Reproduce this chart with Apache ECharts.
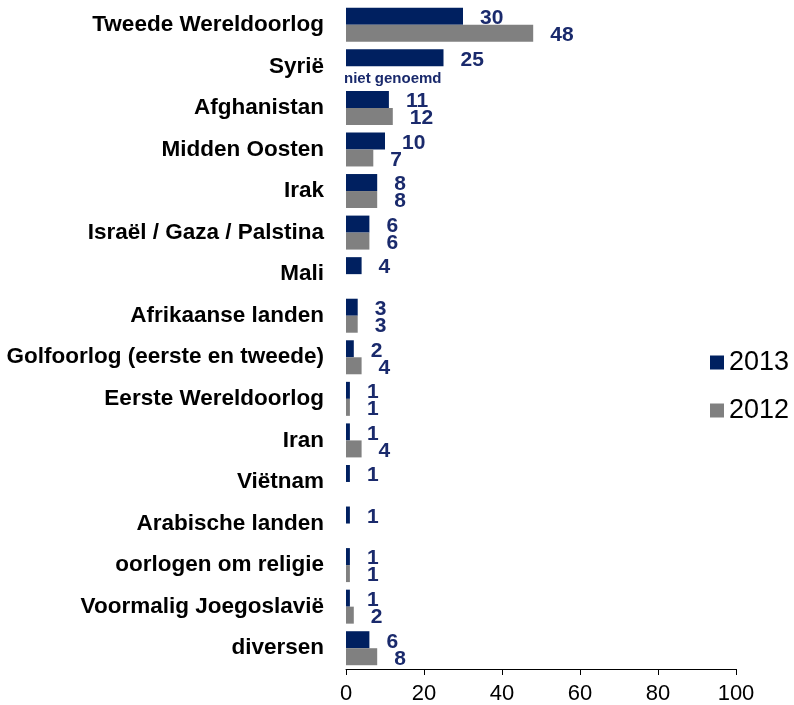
<!DOCTYPE html>
<html>
<head>
<meta charset="utf-8">
<script src="https://cdn.jsdelivr.net/npm/echarts@6/dist/echarts.min.js"></script>
<style>
html,body{margin:0;padding:0;background:#fff;}
#chart{width:794px;height:705px;}
</style>
</head>
<body>
<div id="chart"></div>
<script>
var categories = ['Tweede Wereldoorlog','Syrië','Afghanistan','Midden Oosten','Irak','Israël / Gaza / Palstina','Mali',
  'Afrikaanse landen','Golfoorlog (eerste en tweede)','Eerste Wereldoorlog','Iran','Viëtnam','Arabische landen',
  'oorlogen om religie','Voormalig Joegoslavië','diversen'];
var values2013 = [30,25,11,10,8,6,4,3,2,1,1,1,1,1,1,6];
// null = niet genoemd in 2012
var values2012 = [48,null,12,7,8,6,null,3,4,1,4,null,null,1,2,8];
var xTicks = [0,20,40,60,80,100];

var chart = echarts.init(document.getElementById('chart'));

var labelStyle = {
  show: true,
  position: 'right',
  distance: 17,
  offset: [0, 2],
  color: '#1a2a6c',
  fontFamily: 'Liberation Sans',
  fontWeight: 'bold',
  fontSize: 21
};

// Syrië heeft in 2012 geen waarde, alleen de tekst "niet genoemd"
var data2012 = values2012.map(function(v, i){
  if (v === null && i === 1) {
    return {value: 0, label: {show: true, formatter: 'niet genoemd', fontSize: 15, distance: 0, offset: [-2, 4]}};
  }
  if (v === null) return {value: null, label: {show: false}};
  return v;
});

var options = {
  animation: false,
  legend: {
    orient: 'vertical',
    left: 705,
    top: 344,
    itemWidth: 14,
    itemHeight: 14,
    itemGap: 21,
    icon: 'rect',
    textStyle: {fontFamily: 'Liberation Sans', fontSize: 27, color: '#000'},
    data: ['2013','2012']
  },
  grid: {left: 346, right: 58, top: 4, bottom: 36},
  xAxis: {
    type: 'value',
    min: 0,
    max: 100,
    interval: 20,
    splitLine: {show: false},
    axisLine: {show: true, lineStyle: {color: '#000'}},
    axisTick: {show: true, length: 6, lineStyle: {color: '#000'}},
    axisLabel: {
      fontFamily: 'Liberation Sans', fontSize: 22, color: '#000', margin: 14,
      formatter: function(v){ return xTicks.indexOf(v) >= 0 ? String(v) : ''; }
    }
  },
  yAxis: {
    type: 'category',
    inverse: true,
    data: categories,
    axisLine: {show: false},
    axisTick: {show: false},
    axisLabel: {
      fontFamily: 'Liberation Sans', fontWeight: 'bold', fontSize: 22.5, color: '#000', margin: 22,
      padding: [0, 0, 5, 0]
    }
  },
  series: [
    {
      name: '2013',
      type: 'bar',
      data: values2013,
      barWidth: 17,
      barGap: '0%',
      itemStyle: {color: '#002060'},
      label: labelStyle
    },
    {
      name: '2012',
      type: 'bar',
      data: data2012,
      barWidth: 17,
      itemStyle: {color: '#808080'},
      label: labelStyle
    }
  ]
};
chart.setOption(options, true);
</script>
</body>
</html>
